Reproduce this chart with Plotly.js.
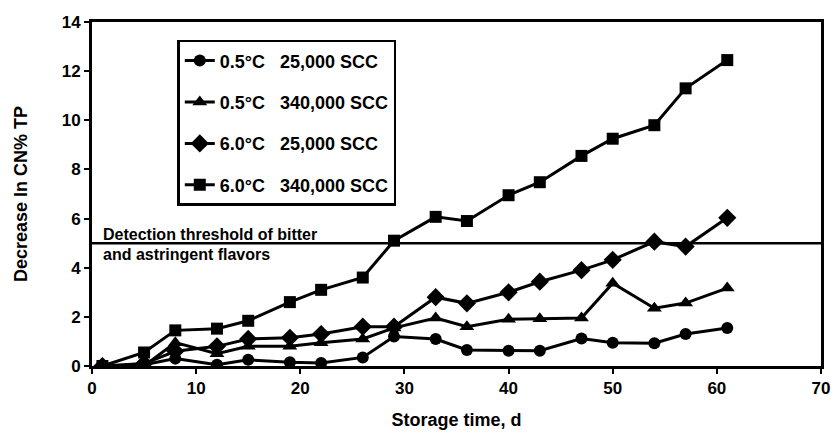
<!DOCTYPE html>
<html>
<head>
<meta charset="utf-8">
<script src="https://cdn.plot.ly/plotly-3.0.1.min.js"></script>
<style>html,body{margin:0;padding:0;background:#fff;}#chart{width:836px;height:443px;}</style>
</head>
<body>
<div id="chart"></div>
<script>
var days = [1,5,8,12,15,19,22,26,29,33,36,40,43,47,50,54,57,61];
var c05_25k  = [0,0.05,0.3,0.05,0.25,0.15,0.12,0.35,1.2,1.1,0.65,0.62,0.62,1.12,0.95,0.93,1.3,1.55];
var c05_340k = [0,0.0,0.95,0.5,0.8,0.8,0.95,1.1,1.55,1.95,1.6,1.9,1.92,1.95,3.37,2.35,2.56,3.17];
var c60_25k  = [0,0.1,0.6,0.8,1.1,1.15,1.3,1.6,1.6,2.8,2.55,3.0,3.43,3.9,4.32,5.06,4.86,6.03];
var c60_340k = [0,0.55,1.45,1.52,1.84,2.6,3.1,3.6,5.1,6.07,5.9,6.95,7.48,8.55,9.25,9.8,11.3,12.45];
var seriesNames = ["0.5°C\u00a0\u00a0\u00a025,000 SCC","0.5°C\u00a0\u00a0\u00a0340,000 SCC","6.0°C\u00a0\u00a0\u00a025,000 SCC","6.0°C\u00a0\u00a0\u00a0340,000 SCC"];
var symbols = ["circle","triangle-up","diamond","square"];
var thresholdValue = 5;
var xTicks = [0,10,20,30,40,50,60,70];
var yTicks = [0,2,4,6,8,10,12,14];

var FONT = "Liberation Sans, Arial, sans-serif";
var sizes = {"circle": 12, "triangle-up": 13, "diamond": 14, "square": 12};
var allY = [c05_25k, c05_340k, c60_25k, c60_340k];
var traces = allY.map(function(y, i){
  return {
    x: days, y: y, name: seriesNames[i], type: "scatter", mode: "lines+markers",
    line: {color: "#000", width: 3},
    marker: {symbol: symbols[i], size: sizes[symbols[i]], color: "#000"},
    legendgroup: "g"+i
  };
});

var layout = {
  width: 836, height: 443,
  margin: {l: 92, r: 15, t: 22, b: 77},
  paper_bgcolor: "#fff", plot_bgcolor: "#fff",
  font: {family: FONT, color: "#000", size: 17, weight: "bold"},
  showlegend: true,
  legend: {
    x: 0.117, y: 0.948, xanchor: "left", yanchor: "top",
    bordercolor: "#000", borderwidth: 2.5, bgcolor: "#fff",
    font: {family: FONT, size: 18, color: "#000", weight: "bold"},
    tracegroupgap: 15, itemwidth: 30
  },
  xaxis: {
    range: [0, 70], tickvals: xTicks, ticktext: xTicks.map(String),
    showgrid: false, zeroline: false,
    showline: true, linecolor: "#000", linewidth: 3, mirror: true,
    ticks: "outside", ticklen: 5, tickwidth: 2, tickcolor: "#000",
    tickfont: {family: FONT, size: 17, weight: "bold"},
    title: {text: "Storage time, d", font: {family: FONT, size: 18, weight: "bold"}, standoff: 16}
  },
  yaxis: {
    range: [0, 14], tickvals: yTicks, ticktext: yTicks.map(String),
    showgrid: false, zeroline: false,
    showline: true, linecolor: "#000", linewidth: 3, mirror: true,
    ticks: "outside", ticklen: 5, tickwidth: 2, tickcolor: "#000",
    tickfont: {family: FONT, size: 17, weight: "bold"},
    title: {text: "Decrease In CN% TP", font: {family: FONT, size: 18, weight: "bold"}, standoff: 30}
  },
  shapes: [{
    type: "line", xref: "paper", x0: 0, x1: 1, yref: "y", y0: thresholdValue, y1: thresholdValue,
    line: {color: "#000", width: 2.5}
  }],
  annotations: [
    {text: "Detection threshold of bitter", xref: "x", yref: "y", x: 0.9, y: thresholdValue,
     xanchor: "left", yanchor: "bottom", yshift: -2, showarrow: false,
     font: {family: FONT, size: 16, weight: "bold"}},
    {text: "and astringent flavors", xref: "x", yref: "y", x: 0.9, y: thresholdValue,
     xanchor: "left", yanchor: "top", yshift: -1, showarrow: false,
     font: {family: FONT, size: 16, weight: "bold"}}
  ]
};

Plotly.newPlot("chart", traces, layout, {displayModeBar: false, staticPlot: true});
</script>
</body>
</html>
